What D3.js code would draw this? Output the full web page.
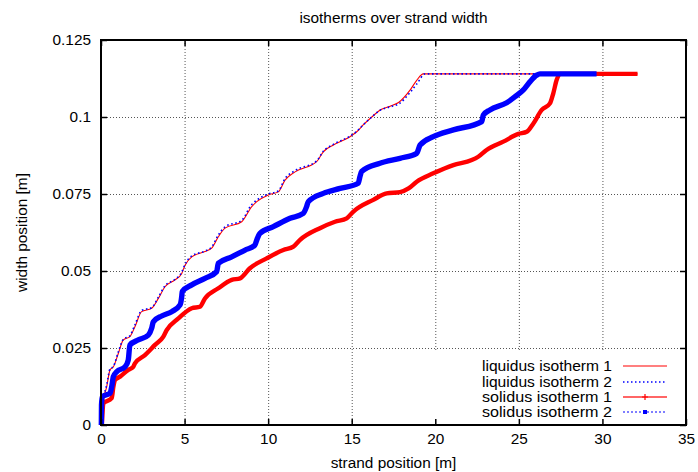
<!DOCTYPE html>
<html>
<head>
<meta charset="utf-8">
<script src="https://cdn.jsdelivr.net/npm/d3@7"></script>
<style>
  html, body { margin: 0; padding: 0; background: #fff; }
  svg { display: block; font-family: "Liberation Sans", Arial, Helvetica, sans-serif; }
</style>
</head>
<body>
<svg id="chart" width="698" height="472"></svg>
<script>
// ---------- data ----------
const chartTitle = "isotherms over strand width";
const xLabel = "strand position [m]";
const yLabel = "width position [m]";
const xTicks = [0, 5, 10, 15, 20, 25, 30, 35];
const yTicks = [0, 0.025, 0.05, 0.075, 0.1, 0.125];
const yTickLabels = ["0", "0.025", "0.05", "0.075", "0.1", "0.125"];
const seriesNames = ["liquidus isotherm 1", "liquidus isotherm 2", "solidus isotherm 1", "solidus isotherm 2"];

const liq1X = [0, 0.05, 0.14, 0.34, 0.54, 0.74, 1.04, 1.33, 1.73, 2.03, 2.43, 3.03, 3.43, 3.83, 4.43, 4.83, 5.03, 5.43, 6.22, 6.62, 7.02, 7.42, 8.42, 9.02, 9.32, 10.01, 10.61, 11.01, 11.61, 12.9, 13.3, 13.9, 14.9, 15.3, 15.7, 16.2, 16.7, 17.3, 17.8, 18.5, 18.9, 19.28, 32.1];
const liq1Y = [0, 0.004, 0.0081, 0.0124, 0.0179, 0.0189, 0.0233, 0.0276, 0.0287, 0.0319, 0.0368, 0.0379, 0.0411, 0.0449, 0.0471, 0.0492, 0.0519, 0.0546, 0.0563, 0.0574, 0.0611, 0.0639, 0.0660, 0.0709, 0.0725, 0.0747, 0.0757, 0.0795, 0.0822, 0.0855, 0.0887, 0.0909, 0.0936, 0.0952, 0.0975, 0.1000, 0.1023, 0.1035, 0.1047, 0.1088, 0.1120, 0.1140, 0.1140];

const liq2X = [0, 0.05, 0.14, 0.34, 0.54, 0.74, 1.04, 1.33, 1.73, 2.03, 2.43, 3.03, 3.43, 3.83, 4.43, 4.83, 5.03, 5.43, 6.22, 6.62, 7.02, 7.42, 8.42, 9.02, 9.32, 10.01, 10.61, 11.01, 11.61, 12.9, 13.3, 13.9, 14.9, 15.3, 15.7, 16.2, 16.7, 17.3, 17.8, 18.5, 18.9, 19.4, 32.1];
const liq2Y = [0, 0.0045, 0.0085, 0.0130, 0.0182, 0.0190, 0.0238, 0.0278, 0.0290, 0.0325, 0.0372, 0.0381, 0.0415, 0.0452, 0.0473, 0.0496, 0.0522, 0.0549, 0.0565, 0.0578, 0.0617, 0.0643, 0.0665, 0.0716, 0.0730, 0.0750, 0.0760, 0.0800, 0.0826, 0.0857, 0.0889, 0.0911, 0.0938, 0.0953, 0.0975, 0.1000, 0.1022, 0.1033, 0.1042, 0.1080, 0.1108, 0.1140, 0.1140];

const sol1X = [0.05, 0.08, 0.14, 0.64, 0.74, 0.84, 1.14, 1.63, 1.93, 2.03, 2.63, 3.23, 3.73, 3.93, 4.63, 5.43, 5.92, 6.22, 7.02, 7.82, 8.32, 8.91, 9.91, 10.91, 11.51, 11.91, 13.1, 14.0, 14.7, 15.1, 16.29, 17.09, 17.89, 18.4, 18.89, 19.88, 21.08, 22.18, 22.57, 23.07, 24.07, 24.97, 25.47, 25.87, 26.37, 26.86, 27.06, 27.26, 27.46, 32.1];
const sol1Y = [0, 0.0030, 0.0070, 0.0087, 0.0124, 0.0146, 0.0157, 0.0179, 0.0189, 0.0200, 0.0227, 0.0260, 0.0287, 0.0308, 0.0346, 0.0379, 0.0384, 0.0411, 0.0444, 0.0471, 0.0476, 0.0509, 0.0541, 0.0568, 0.0579, 0.0601, 0.0639, 0.0660, 0.0671, 0.0693, 0.0731, 0.0752, 0.0756, 0.0768, 0.0790, 0.0817, 0.0844, 0.0860, 0.0871, 0.0893, 0.0920, 0.0945, 0.0952, 0.0979, 0.1023, 0.1044, 0.1077, 0.1120, 0.1140, 0.1140];

const sol2X = [0.02, 0.03, 0.08, 0.54, 0.64, 0.74, 0.94, 1.44, 1.63, 1.73, 2.23, 2.83, 3.03, 3.13, 3.63, 4.23, 4.73, 4.83, 4.86, 5.43, 6.22, 6.92, 7.02, 7.82, 8.62, 9.21, 9.32, 9.51, 10.31, 11.31, 12.1, 12.3, 12.4, 13.3, 14.3, 15.39, 15.49, 15.59, 16.69, 17.89, 18.89, 19.09, 19.88, 21.08, 22.78, 22.87, 23.27, 24.27, 24.77, 25.27, 25.67, 26.07, 26.26, 29.65];
const sol2Y = [0, 0.0065, 0.0092, 0.0103, 0.0124, 0.0157, 0.0173, 0.0189, 0.0211, 0.0260, 0.0276, 0.0292, 0.0314, 0.0335, 0.0354, 0.0368, 0.0390, 0.0417, 0.0433, 0.0455, 0.0476, 0.0498, 0.0525, 0.0546, 0.0568, 0.0584, 0.0601, 0.0622, 0.0644, 0.0671, 0.0687, 0.0709, 0.0725, 0.0752, 0.0768, 0.0785, 0.0806, 0.0823, 0.0850, 0.0866, 0.0882, 0.0909, 0.0936, 0.0958, 0.0985, 0.1006, 0.1023, 0.1046, 0.1066, 0.1088, 0.1115, 0.1136, 0.1140, 0.1140];

// ---------- layout ----------
const svg = d3.select("#chart");
const L = 101, R = 686, T = 40, B = 425;
const FS = "15.4px";
const LFS = "14.6px";
const x = d3.scaleLinear().domain([0, 35]).range([L, R]);
const y = d3.scaleLinear().domain([0, 0.125]).range([B, T]);

const zip = (xs, ys) => xs.map((v, i) => [v, ys[i]]);

// grid
const grid = svg.append("g").attr("stroke", "#555").attr("stroke-width", 1).attr("stroke-dasharray", "1,2");
xTicks.slice(1, -1).forEach(t => {
  grid.append("line").attr("x1", x(t) + 0.5).attr("x2", x(t) + 0.5).attr("y1", T).attr("y2", B);
});
yTicks.slice(1, -1).forEach(t => {
  grid.append("line").attr("x1", L).attr("x2", R).attr("y1", Math.round(y(t)) + 0.5).attr("y2", Math.round(y(t)) + 0.5);
});

// legend background (covers the grid like in the reference)
svg.append("rect").attr("x", 428).attr("y", 352).attr("width", R - 428).attr("height", B - 352).attr("fill", "#fff");

// series
const lineSmooth = d3.line().x(d => x(d[0])).y(d => y(d[1])).curve(d3.curveMonotoneX);

svg.append("path").datum(zip(liq1X, liq1Y)).attr("d", lineSmooth)
  .attr("fill", "none").attr("stroke", "#ff0000").attr("stroke-width", 1.1);
svg.append("path").datum(zip(liq2X, liq2Y)).attr("d", lineSmooth)
  .attr("fill", "none").attr("stroke", "#0000ff").attr("stroke-width", 1.6).attr("stroke-dasharray", "1.6,2.6");
svg.append("path").datum(zip(sol1X, sol1Y)).attr("d", lineSmooth)
  .attr("fill", "none").attr("stroke", "#ff0000").attr("stroke-width", 4.4).attr("stroke-linejoin", "round");
svg.append("path").datum(zip(sol2X, sol2Y)).attr("d", lineSmooth)
  .attr("fill", "none").attr("stroke", "#0000ff").attr("stroke-width", 5.4).attr("stroke-linejoin", "round");

// axes (inward ticks)
const styleAxis = g => {
  g.select(".domain").remove();
  g.selectAll(".tick line").attr("stroke", "#000").attr("stroke-width", 1.5);
  g.selectAll("text").attr("font-size", FS).attr("font-family", "Liberation Sans, Arial, sans-serif").attr("fill", "#000");
  g.attr("font-size", null).attr("font-family", null);
};
svg.append("g").attr("transform", `translate(0,${B})`)
  .call(d3.axisBottom(x).tickValues(xTicks).tickSizeInner(-6).tickSizeOuter(0).tickPadding(8).tickFormat(d3.format("d")))
  .call(styleAxis);
svg.append("g").attr("transform", `translate(0,${T})`)
  .call(d3.axisTop(x).tickValues(xTicks).tickSizeInner(-6).tickSizeOuter(0).tickFormat(""))
  .call(styleAxis);
svg.append("g").attr("transform", `translate(${L},0)`)
  .call(d3.axisLeft(y).tickValues(yTicks).tickSizeInner(-6).tickSizeOuter(0).tickPadding(10).tickFormat((d, i) => yTickLabels[i]))
  .call(styleAxis);
svg.append("g").attr("transform", `translate(${R},0)`)
  .call(d3.axisRight(y).tickValues(yTicks).tickSizeInner(-6).tickSizeOuter(0).tickFormat(""))
  .call(styleAxis);

// frame
svg.append("rect").attr("x", L).attr("y", T).attr("width", R - L).attr("height", B - T)
  .attr("fill", "none").attr("stroke", "#000").attr("stroke-width", 2);

// titles
svg.append("text").attr("x", (L + R) / 2).attr("y", 23).attr("text-anchor", "middle")
  .attr("font-size", FS).text(chartTitle);
svg.append("text").attr("x", (L + R) / 2).attr("y", 468).attr("text-anchor", "middle")
  .attr("font-size", FS).text(xLabel);
svg.append("text").attr("transform", `translate(27,${(T + B) / 2}) rotate(-90)`).attr("text-anchor", "middle")
  .attr("font-size", FS).text(yLabel);

// legend
const legY = [366, 382, 397, 412];
const lg = svg.append("g");
seriesNames.forEach((name, i) => {
  lg.append("text").attr("x", 612).attr("y", legY[i]).attr("dy", "0.35em").attr("text-anchor", "end")
    .attr("font-size", LFS).attr("textLength", 130).attr("lengthAdjust", "spacingAndGlyphs").text(name);
});
lg.append("line").attr("x1", 623).attr("x2", 667).attr("y1", legY[0]).attr("y2", legY[0]).attr("stroke", "#ff0000").attr("stroke-width", 1.2);
lg.append("line").attr("x1", 623).attr("x2", 667).attr("y1", legY[1]).attr("y2", legY[1]).attr("stroke", "#0000ff").attr("stroke-width", 1.4).attr("stroke-dasharray", "1.5,2.5");
lg.append("line").attr("x1", 623).attr("x2", 667).attr("y1", legY[2]).attr("y2", legY[2]).attr("stroke", "#ff0000").attr("stroke-opacity", 0.6).attr("stroke-width", 2.2);
lg.append("path").attr("d", `M${645 - 3},${legY[2]}h6M645,${legY[2] - 3}v6`).attr("stroke", "#ff0000").attr("stroke-width", 1.2);
lg.append("line").attr("x1", 623).attr("x2", 667).attr("y1", legY[3]).attr("y2", legY[3]).attr("stroke", "#0000ff").attr("stroke-width", 1.2).attr("stroke-dasharray", "2,2");
lg.append("rect").attr("x", 643).attr("y", legY[3] - 2).attr("width", 4).attr("height", 4).attr("fill", "#0000ff");
</script>
</body>
</html>
